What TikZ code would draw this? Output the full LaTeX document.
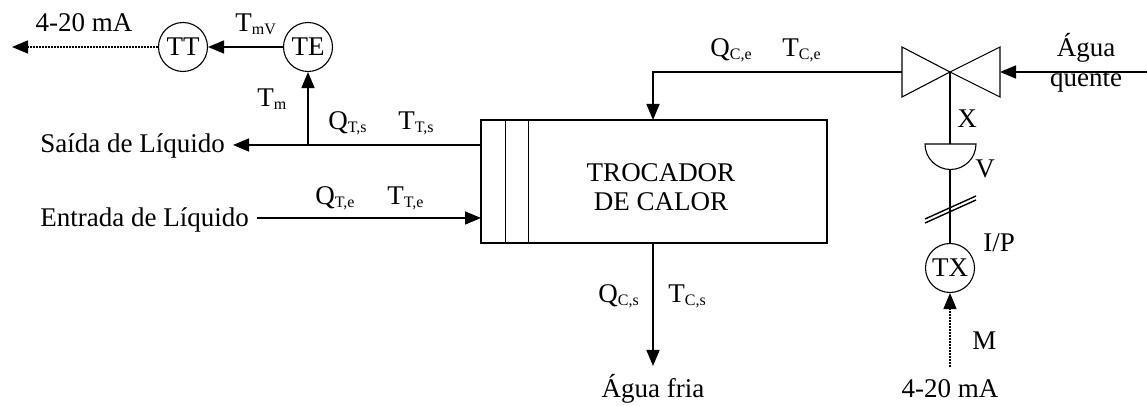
\documentclass[tikz,border=0pt]{standalone}
\usepackage{fontspec}
\setmainfont{Liberation Serif}
\usetikzlibrary{arrows.meta}
\newcommand\sbs[1]{\raisebox{-1.5pt}{\fontsize{8}{8}\selectfont #1}}
\begin{document}
\begin{tikzpicture}[x=0.5pt,y=-0.5pt,
  font=\rmfamily\fontsize{13.5}{15}\selectfont,
  ln/.style={line width=0.8pt},
  thin/.style={line width=0.55pt},
  arr/.style={ln,-{Triangle[length=8pt,width=6.5pt]}},
  dotarr/.style={ln,dash pattern=on 0.8pt off 0.7pt,-{Triangle[length=8pt,width=6.5pt]}},
  inst/.style={circle,draw,thin,minimum size=24.5pt,inner sep=0pt},
  lbl/.style={inner sep=0pt,anchor=base west},
  clbl/.style={inner sep=0pt,anchor=base}]
\useasboundingbox (0,0) rectangle (1147,406);

% instruments
\node[inst] (TT) at (183,47) {TT};
\node[inst] (TE) at (308,47) {TE};
\node[inst] (TX) at (950,268) {TX};

% heat exchanger
\node[draw,line width=0.7pt,minimum width=173pt,minimum height=61.5pt,inner sep=0pt] (hx) at (654,181.5) {};
\draw[line width=0.7pt] ([xshift=12.5pt]hx.north west) -- ([xshift=12.5pt]hx.south west);
\draw[line width=0.7pt] ([xshift=24pt]hx.north west) -- ([xshift=24pt]hx.south west);
\node[inner sep=0pt,align=center,font=\rmfamily\fontsize{13.5}{14.5}\selectfont] (hxt) at (661,187) {TROCADOR\\DE CALOR};

% texts
\node[clbl] (ma1) at (84,32) {4-20 mA};
\node[lbl] (tmv) at (235,32) {T\sbs{mV}};
\node[lbl] (tm) at (257,107) {T\sbs{m}};
\node[lbl] (saida) at (40,153) {Saída de Líquido};
\node[lbl] (qts) at (328,130) {Q\sbs{T,s}};
\node[lbl] (tts) at (398,130) {T\sbs{T,s}};
\node[lbl] (entrada) at (40,227) {Entrada de Líquido};
\node[lbl] (qte) at (315,205) {Q\sbs{T,e}};
\node[lbl] (tte) at (387,205) {T\sbs{T,e}};
\node[lbl] (qce) at (710,57) {Q\sbs{C,e}};
\node[lbl] (tce) at (782,57) {T\sbs{C,e}};
\node[clbl] (agua1) at (1086,57) {Água};
\node[clbl] (agua2) at (1086,87) {quente};
\node[lbl] (lx) at (957,128) {X};
\node[lbl] (lv) at (975,178) {V};
\node[lbl] (lip) at (983,252) {I/P};
\node[lbl] (lm) at (972,350) {M};
\node[clbl] (ma2) at (950,398) {4-20 mA};
\node[lbl] (qcs) at (598,303) {Q\sbs{C,s}};
\node[lbl] (tcs) at (668,303) {T\sbs{C,s}};
\node[clbl] (fria) at (653,398) {Água fria};

% coordinates
\coordinate (outL) at (12,47);
\coordinate (hxs) at (481,145);
\coordinate (sEnd) at (233,145);
\coordinate (jn) at (308,145);
\coordinate (eStart) at (257,218);
\coordinate (hxe) at (481,218);
\coordinate (v) at (950,72);
\coordinate (vl) at (902,72);
\coordinate (vr) at (1000,72);
\coordinate (hotIn) at (1147,72);
\coordinate (cor) at (653,72);
\coordinate (hxtop) at (653,120);
\coordinate (hxbot) at (653,243);
\coordinate (coldOut) at (653,366);
\coordinate (actTop) at (950,144);
\coordinate (actBot) at (950,169.5);
\coordinate (sigIn) at (950,367);

% connectors
\draw[arr] (TE) -- (TT);
\draw[dotarr] (TT) -- (outL);
\draw[arr] (hxs) -- (sEnd);
\draw[arr] (jn) -- (TE);
\draw[arr] (eStart) -- (hxe);
\draw[arr] (hotIn) -- (vr);
\draw[arr] (vl) -- (cor) -- (hxtop);
\draw[arr] (hxbot) -- (coldOut);

% valve
\draw[thin] (902,47) -- (902,97) -- (v) -- cycle;
\draw[thin] (1000,47) -- (1000,97) -- (v) -- cycle;
\draw[thin] (v) -- (actTop);
\draw[thin] (925,144) -- (976,144) arc[start angle=0,end angle=180,radius=25.5] -- cycle;
\draw[thin] (actBot) -- (TX);
\draw[line width=0.7pt] (925,219) -- (976,196);
\draw[line width=0.7pt] (925,223) -- (976,200);
\draw[dotarr] (sigIn) -- (TX);
\end{tikzpicture}
\end{document}
